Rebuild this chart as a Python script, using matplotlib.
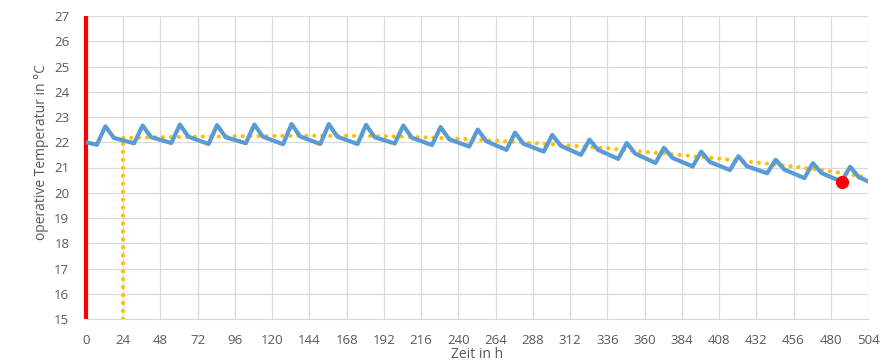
import matplotlib
matplotlib.use("Agg")
import matplotlib.pyplot as plt

plt.rcParams['font.family'] = ['Open Sans', 'DejaVu Sans']

# Daily cycle of the operative temperature: minimum before the heating peak,
# peak value and the level right after the peak drops again (°C)
day_min = [21.90, 21.96, 21.97, 21.93, 21.96, 21.92, 21.93, 21.93, 21.95, 21.89, 21.83,
           21.70, 21.63, 21.50, 21.34, 21.18, 21.04, 20.90, 20.77, 20.58, 20.44]
day_peak = [22.63, 22.66, 22.70, 22.68, 22.70, 22.72, 22.72, 22.69, 22.66, 22.60, 22.50,
            22.38, 22.29, 22.10, 21.97, 21.78, 21.63, 21.45, 21.31, 21.17, 21.03]
day_shoulder = [22.17, 22.20, 22.22, 22.20, 22.22, 22.23, 22.22, 22.20, 22.18, 22.12, 22.04,
                21.94, 21.86, 21.70, 21.55, 21.38, 21.22, 21.05, 20.92, 20.78, 20.62]
# hours within each day at which the min / peak / shoulder occur
hour_min, hour_peak, hour_shoulder = 7, 12.5, 18
start_temp = 22.00
end_temp = 20.45

# Trend (dotted) sampled every 24 h from hour 24 to 504
trend_hours = [24, 48, 72, 96, 120, 144, 168, 192, 216, 240, 264, 288, 312, 336, 360,
               384, 408, 432, 456, 480, 504]
trend_temp = [22.17, 22.20, 22.22, 22.24, 22.25, 22.26, 22.26, 22.24, 22.20, 22.14, 22.06,
              21.97, 21.87, 21.76, 21.62, 21.49, 21.35, 21.20, 21.04, 20.85, 20.60]

marker_hour, marker_temp = 487, 20.42
x_ticks = list(range(0, 505, 24))
y_ticks = list(range(15, 28))

# assemble the temperature curve
t = [0]
y = [start_temp]
for k in range(len(day_peak)):
    base = 24 * k
    t += [base + hour_min, base + hour_peak, base + hour_shoulder]
    y += [day_min[k], day_peak[k], day_shoulder[k]]
t.append(504)
y.append(end_temp)

fig = plt.figure(figsize=(8.8, 3.61), dpi=100)
ax = fig.add_axes([86 / 880, 1 - 319 / 361, (868 - 86) / 880, (319 - 16) / 361])

grid_c = '#D9D9D9'
text_c = '#595959'

ax.set_xlim(0, 504)
ax.set_ylim(15, 27)
ax.set_xticks(x_ticks)
ax.set_yticks(y_ticks)
ax.grid(True, color=grid_c, linewidth=0.9)
ax.set_axisbelow(True)
for s in ['top', 'right', 'left']:
    ax.spines[s].set_visible(False)
ax.spines['bottom'].set_color(grid_c)
ax.tick_params(length=0, colors=text_c, labelsize=9.5)
ax.tick_params(axis='x', pad=11)
ax.tick_params(axis='y', pad=12)

# red marker line at hour 0
ax.plot([0, 0], [15, 27], color='#FF0000', linewidth=3.0, clip_on=False, zorder=4,
        solid_capstyle='butt')

# trend and its vertical reference at hour 24
dot_style = dict(color='#FFC000', linewidth=3.0, linestyle=(0, (0.01, 1.9)),
                 dash_capstyle='round', zorder=3)
ax.plot(trend_hours, trend_temp, **dot_style)
ax.plot([trend_hours[0], trend_hours[0]], [15, trend_temp[0]], **dot_style)

ax.plot(t, y, color='#5B9BD5', linewidth=3.0, solid_joinstyle='round', solid_capstyle='round', zorder=5)
ax.plot([marker_hour], [marker_temp], 'o', color='#FF0000', markersize=8.5, zorder=6)

ax.set_xlabel('Zeit in h', color=text_c, fontsize=10)
ax.xaxis.set_label_coords(0.5, -0.118)
ax.xaxis.label.set_va('center')
ax.set_ylabel('operative Temperatur in °C', color=text_c, fontsize=10)
ax.yaxis.set_label_coords(-0.047, 0.55)

fig.savefig('out.png', dpi=100)
